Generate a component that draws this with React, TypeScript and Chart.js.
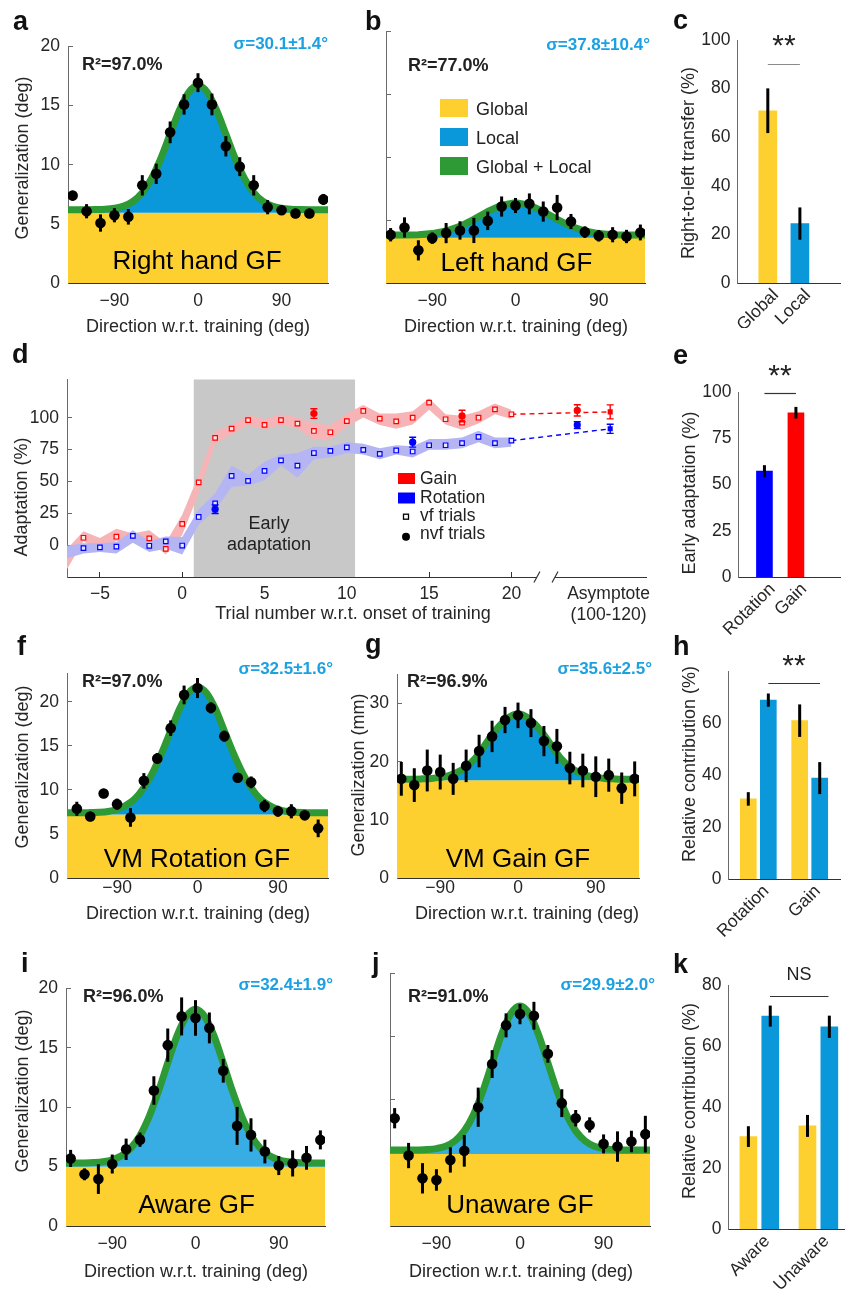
import React, { useEffect, useRef } from 'react';
import { Chart, registerables } from 'chart.js';

Chart.register(...registerables);

const FONT = '"Liberation Sans", Arial, Helvetica, sans-serif';
Chart.defaults.font.family = FONT;
Chart.defaults.font.size = 17.5;
Chart.defaults.color = '#262626';

/* ======================= DATA ======================= */
// Generalization functions (panels a, b, f, g, i, j)
const DIRECTIONS = [-135, -120, -105, -90, -75, -60, -45, -30, -15, 0, 15, 30, 45, 60, 75, 90, 105, 120, 135];
const FIT_DIRECTIONS = [-150, -140, -130, -120, -110, -100, -90, -80, -70, -60, -50, -40, -30, -20, -10, 0, 10, 20, 30, 40, 50, 60, 70, 80, 90, 100, 110, 120, 130, 140, 150];
const COARSE_FIT_DIRECTIONS = [-150, -135, -120, -105, -90, -75, -60, -45, -30, -15, 0, 15, 30, 45, 60, 75, 90, 105, 120, 135, 150];
const GF_X_TICKS = [-90, 0, 90];

// a: Right hand GF
const RIGHT_HAND_MEAN = [7.39, 6.07, 5.07, 5.73, 5.6, 8.26, 9.23, 12.74, 15.1, 16.94, 15.1, 11.56, 9.84, 8.26, 6.41, 6.15, 5.88, 5.88, 7.07];
const RIGHT_HAND_SEM = [0.4, 0.6, 0.73, 0.6, 0.66, 0.86, 0.86, 0.92, 0.86, 0.8, 0.92, 0.86, 0.8, 0.86, 0.6, 0.4, 0.4, 0.4, 0.46];
const RIGHT_HAND_FIT = [6.2, 6.2, 6.2, 6.2, 6.21, 6.24, 6.32, 6.5, 6.9, 7.64, 8.85, 10.54, 12.59, 14.62, 16.13, 16.7, 16.13, 14.62, 12.59, 10.54, 8.85, 7.64, 6.9, 6.5, 6.32, 6.24, 6.21, 6.2, 6.2, 6.2, 6.2];
const RIGHT_HAND_GLOBAL = 5.95;

// b: Left hand GF
const LEFT_HAND_MEAN = [3.83, 4.41, 2.59, 3.56, 3.96, 4.17, 4.17, 4.93, 6.07, 6.15, 6.28, 5.67, 5.99, 4.88, 4.04, 3.75, 3.83, 3.69, 4.01];
const LEFT_HAND_SEM = [0.53, 0.8, 0.8, 0.45, 0.8, 0.73, 1.0, 0.73, 0.8, 0.6, 0.83, 0.8, 1.0, 0.6, 0.46, 0.46, 0.6, 0.53, 0.63];
const LEFT_HAND_FIT = [3.8, 3.8, 3.8, 3.83, 3.92, 4.13, 4.5, 5.05, 5.68, 6.18, 6.38, 6.18, 5.68, 5.05, 4.5, 4.13, 3.92, 3.83, 3.8, 3.8, 3.8];
const LEFT_HAND_GLOBAL = 3.6;

// f: VM Rotation GF
const VM_ROT_MEAN = [7.85, 6.97, 9.58, 8.38, 6.87, 11.02, 13.56, 17.0, 20.77, 21.55, 19.3, 16.09, 11.37, 10.85, 8.17, 7.57, 7.57, 7.11, 5.63];
const VM_ROT_SEM = [0.8, 0.53, 0.53, 0.62, 1.06, 0.88, 0.62, 0.88, 1.06, 1.14, 0.62, 0.62, 0.5, 0.67, 0.7, 0.62, 0.8, 0.4, 1.0];
const VM_ROT_FIT = [7.4, 7.4, 7.4, 7.42, 7.45, 7.55, 7.8, 8.25, 9.0, 10.25, 12.0, 14.2, 16.7, 19.2, 21.0, 21.65, 21.0, 19.2, 16.7, 14.2, 12.0, 10.25, 9.0, 8.25, 7.8, 7.55, 7.45, 7.42, 7.4, 7.4, 7.4];
const VM_ROT_GLOBAL = 7.2;

// g: VM Gain GF
const VM_GAIN_MEAN = [17.05, 15.98, 18.49, 18.22, 17.05, 19.29, 21.84, 24.35, 27.17, 27.97, 26.64, 23.55, 22.64, 18.91, 18.49, 17.42, 17.69, 15.45, 17.05];
const VM_GAIN_SEM = [2.9, 2.9, 3.6, 3.0, 2.75, 2.8, 2.8, 2.7, 2.26, 2.2, 2.4, 2.6, 3.0, 2.8, 2.9, 3.5, 2.85, 2.7, 3.0];
const VM_GAIN_FIT = [17.0, 17.0, 17.0, 17.0, 17.05, 17.12, 17.3, 17.6, 18.2, 19.1, 20.5, 22.5, 24.6, 26.4, 27.7, 28.2, 27.7, 26.4, 24.6, 22.5, 20.5, 19.1, 18.2, 17.6, 17.3, 17.12, 17.05, 17.0, 17.0, 17.0, 17.0];
const VM_GAIN_GLOBAL = 16.8;

// i: Aware GF
const AWARE_MEAN = [5.69, 4.35, 3.95, 5.22, 6.46, 7.27, 11.41, 15.23, 17.65, 17.52, 16.68, 13.07, 8.43, 7.67, 6.27, 5.09, 5.27, 5.74, 7.25];
const AWARE_SEM = [0.72, 0.5, 1.25, 0.8, 0.9, 0.6, 1.2, 1.4, 1.6, 1.5, 1.3, 1.0, 1.6, 1.4, 1.0, 0.8, 1.1, 1.0, 0.8];
const AWARE_FIT = [5.3, 5.3, 5.3, 5.31, 5.34, 5.41, 5.57, 5.91, 6.56, 7.63, 9.24, 11.35, 13.73, 16.01, 17.64, 18.25, 17.64, 16.01, 13.73, 11.35, 9.24, 7.63, 6.56, 5.91, 5.57, 5.41, 5.34, 5.31, 5.3, 5.3, 5.3];
const AWARE_GLOBAL = 5.0;

// j: Unaware GF
const UNAWARE_MEAN = [8.52, 5.57, 3.77, 3.64, 5.22, 5.94, 9.39, 12.8, 15.86, 16.75, 16.62, 13.61, 9.71, 8.52, 7.99, 6.49, 6.28, 6.68, 7.26];
const UNAWARE_SEM = [0.8, 1.0, 1.2, 0.85, 1.0, 1.25, 1.55, 1.1, 0.95, 0.8, 1.1, 0.7, 1.1, 0.65, 0.6, 0.75, 1.2, 0.85, 1.45];
const UNAWARE_FIT = [6.0, 6.0, 6.0, 6.0, 6.01, 6.04, 6.12, 6.31, 6.73, 7.52, 8.82, 10.66, 12.89, 15.12, 16.78, 17.4, 16.78, 15.12, 12.89, 10.66, 8.82, 7.52, 6.73, 6.31, 6.12, 6.04, 6.01, 6.0, 6.0, 6.0, 6.0];
const UNAWARE_GLOBAL = 5.7;

// c: Right-to-left transfer
const C_LABELS = ['Global', 'Local'];
const C_TRANSFER = [70.9, 24.45];
const C_TRANSFER_SEM = [9.2, 6.65];
const C_Y_TICKS = [0, 20, 40, 60, 80, 100];

// d: Adaptation time course
const TRIALS = [-7, -6, -5, -4, -3, -2, -1, 0, 1, 2, 3, 4, 5, 6, 7, 8, 9, 10, 11, 12, 13, 14, 15, 16, 17, 18, 19, 20];
const GAIN_VF = [null, 5.8, null, 6.6, null, 5.3, -2.9, 16.7, 49.3, 84.2, 91.5, 98.1, 94.4, 98.1, 95.4, 89.6, 88.6, 97.3, 105.3, 99.3, 97.1, 100, 111.9, 98.8, 96.1, 100, 106.6, 102.7];
const ROT_VF = [null, -2.4, -1.7, -1.2, 7.3, -0.5, 2.9, -0.3, 22.1, 32.8, 54.4, 50.5, 58.3, 66.5, 62.4, 72.3, 74, 76.7, 74.8, 71.6, 74.3, 73.5, 78.4, 78.4, 80.1, 85, 80.1, 82];
const GAIN_BAND_HI = [-3, 11, 5.6, 12.9, 9.2, 11.7, 1.9, 23.8, 55.3, 89.3, 94.2, 101.9, 99, 102.7, 100.2, 95.4, 94.2, 103.4, 110, 103.4, 103.4, 105.1, 115.3, 102.7, 101.5, 105, 111.2, 106.3];
const GAIN_BAND_LO = [-19, 3.2, -5.3, 3.2, 1.9, 3.2, -7.3, 8, 40.8, 79.6, 86.9, 94.2, 90.5, 94.2, 91.7, 82.5, 82.5, 93, 100.2, 94.2, 91.3, 94.7, 106.3, 94.7, 90.5, 95.4, 102.7, 99];
const ROT_BAND_HI = [-0.5, 1.5, 1.5, 2.4, 11.7, 3.2, 6.8, 6.3, 28, 40.8, 62.6, 55.3, 65.5, 71.1, 72.3, 77.2, 77.2, 80.8, 79.6, 76, 78.4, 77.7, 83.3, 83.3, 84.5, 89.8, 84.5, 84.5];
const ROT_BAND_LO = [-10.2, -6.6, -5.3, -6.6, 1.9, -5.3, -2.9, -7.3, 16, 27.4, 45.6, 46.8, 51, 62.6, 52.9, 67.5, 68.7, 72.3, 71.1, 67.5, 71.1, 68.7, 74.8, 74.8, 76, 80.8, 76, 77.2];
const GAIN_NVF_TRIALS = [8, 17, 24];
const GAIN_NVF = [103.3, 101.4, 105.8];
const GAIN_NVF_SEM = [3.8, 4.5, 4.4];
const ROT_NVF_TRIALS = [2, 14, 24];
const ROT_NVF = [28.2, 80.8, 94.2];
const ROT_NVF_SEM = [3.4, 3.9, 2.7];
const ASYMPTOTE_VF_TRIAL = [26];
const GAIN_ASYMPTOTE_VF = [104.6];
const GAIN_ASYMPTOTE_VF_SEM = [5.5];
const ROT_ASYMPTOTE_VF = [91.3];
const ROT_ASYMPTOTE_VF_SEM = [3.6];
const EARLY_WINDOW = [0.7, 10.5];
const D_X_TICKS = [-5, 0, 5, 10, 15, 20];
const D_ASYMPTOTE_TICK = 25.9;
const D_ASYMPTOTE_LABEL = ['Asymptote', '(100-120)'];
const D_Y_TICKS = [0, 25, 50, 75, 100];
const D_AXIS_BREAK = [21.55, 22.65];

// e: Early adaptation
const E_LABELS = ['Rotation', 'Gain'];
const E_EARLY = [57.2, 88.8];
const E_EARLY_SEM = [3.25, 3.15];
const E_Y_TICKS = [0, 25, 50, 75, 100];

// h: Relative contribution (Rotation vs Gain)
const H_LABELS = ['Rotation', 'Gain'];
const H_GLOBAL = [30.8, 60.9];
const H_GLOBAL_SEM = [2.6, 6.25];
const H_LOCAL = [68.8, 38.8];
const H_LOCAL_SEM = [2.55, 6.15];
const H_Y_TICKS = [0, 20, 40, 60];

// k: Relative contribution (Aware vs Unaware)
const K_LABELS = ['Aware', 'Unaware'];
const K_GLOBAL = [30.3, 33.8];
const K_GLOBAL_SEM = [3.4, 3.6];
const K_LOCAL = [69.8, 66.3];
const K_LOCAL_SEM = [3.45, 3.65];
const K_Y_TICKS = [0, 20, 40, 60, 80];

/* ======================= STYLE ======================= */
const YELLOW = '#FDD02F';
const BLUE = '#0A98DA';
const BLUE_LIGHT = '#38ADE3';
const GREEN = '#2E9A35';
const SIGMA = '#1BA1E2';
const RED = '#FF0000';
const DBLUE = '#0000FF';
const PINK = '#F6B4B6';
const LAVENDER = '#B5B5F4';
const GRAY = '#C8C8C8';
const AXIS_Y = '#6a6a6a';
const AXIS_X = '#333333';

type Box = { l: number; t: number; r: number; b: number };
type Pad = { left: number; top: number; right: number; bottom: number };

const fmt = (v: number) => (v < 0 ? '\u2212' + Math.abs(v) : String(v));
const pts = (xs: number[], ys: (number | null)[]) => xs.map((x, i) => ({ x, y: ys[i] }));

/* ======================= PLUGINS ======================= */
const errorBars = {
  id: 'errorBars',
  afterDatasetsDraw(chart: any) {
    const ctx = chart.ctx;
    chart.data.datasets.forEach((ds: any, i: number) => {
      if (!ds.errors) return;
      const meta = chart.getDatasetMeta(i);
      const ys = chart.scales[meta.yAxisID];
      ctx.save();
      ctx.strokeStyle = ds.errorColor || '#000';
      ctx.lineWidth = ds.errorWidth || 2;
      meta.data.forEach((el: any, j: number) => {
        const e = ds.errors[j];
        const raw = ds.data[j];
        const v = raw && typeof raw === 'object' ? raw.y : raw;
        if (e == null || v == null) return;
        const x = el.x;
        const y1 = ys.getPixelForValue(v - e);
        const y2 = ys.getPixelForValue(v + e);
        ctx.beginPath();
        ctx.moveTo(x, y1);
        ctx.lineTo(x, y2);
        if (ds.errorCap) {
          const c = ds.errorCap;
          ctx.moveTo(x - c, y1);
          ctx.lineTo(x + c, y1);
          ctx.moveTo(x - c, y2);
          ctx.lineTo(x + c, y2);
        }
        ctx.stroke();
      });
      ctx.restore();
    });
  },
};

function sigLine(x1: number, x2: number, y: number, color: string) {
  return {
    id: 'sigLine',
    afterDatasetsDraw(chart: any) {
      const { ctx } = chart;
      const xs = chart.scales.x;
      const ys = chart.scales.y;
      const py = Math.round(ys.getPixelForValue(y)) + 0.5;
      ctx.save();
      ctx.strokeStyle = color;
      ctx.lineWidth = 1.2;
      ctx.beginPath();
      ctx.moveTo(xs.getPixelForValue(x1), py);
      ctx.lineTo(xs.getPixelForValue(x2), py);
      ctx.stroke();
      ctx.restore();
    },
  };
}

const earlyWindow = {
  id: 'earlyWindow',
  beforeDatasetsDraw(chart: any) {
    const { ctx, chartArea } = chart;
    const xs = chart.scales.x;
    const x1 = xs.getPixelForValue(EARLY_WINDOW[0]);
    const x2 = xs.getPixelForValue(EARLY_WINDOW[1]);
    ctx.save();
    ctx.fillStyle = GRAY;
    ctx.fillRect(x1, chartArea.top, x2 - x1, chartArea.bottom - chartArea.top);
    ctx.restore();
  },
};

const axisBreak = {
  id: 'axisBreak',
  afterDraw(chart: any) {
    const { ctx, chartArea } = chart;
    const xs = chart.scales.x;
    const a = xs.getPixelForValue(D_AXIS_BREAK[0]);
    const b = xs.getPixelForValue(D_AXIS_BREAK[1]);
    const y = chartArea.bottom;
    ctx.save();
    ctx.fillStyle = '#fff';
    ctx.fillRect(a, y - 2, b - a, 4);
    ctx.strokeStyle = AXIS_X;
    ctx.lineWidth = 1.2;
    ctx.beginPath();
    [a, b].forEach((x) => {
      ctx.moveTo(x - 3, y + 5.5);
      ctx.lineTo(x + 3, y - 5.5);
    });
    ctx.stroke();
    ctx.restore();
  },
};

/* ======================= AXES ======================= */
function yAxis(pad: Pad, min: number, max: number, tickVals: number[], o: any = {}) {
  const inward = o.inward !== false;
  return {
    type: 'linear',
    min,
    max,
    afterFit: (s: any) => {
      s.width = pad.left;
    },
    afterBuildTicks: (s: any) => {
      s.ticks = tickVals.map((v) => ({ value: v }));
    },
    border: { display: true, color: AXIS_Y, width: 1 },
    grid: inward
      ? { display: true, drawOnChartArea: false, drawTicks: true, tickLength: -5, color: AXIS_Y }
      : { display: false, drawTicks: false },
    ticks: { display: o.labels !== false, padding: inward ? 13 : 6.5, callback: (v: number) => fmt(v) },
  };
}

function xAxis(pad: Pad, min: number, max: number, tickVals: number[], o: any = {}) {
  const inward = o.inward !== false;
  return {
    type: 'linear',
    min,
    max,
    offset: false,
    afterFit: (s: any) => {
      s.height = pad.bottom;
    },
    afterBuildTicks: (s: any) => {
      s.ticks = tickVals.map((v) => ({ value: v }));
    },
    border: { display: true, color: AXIS_X, width: 1 },
    grid: inward
      ? { display: true, drawOnChartArea: false, drawTicks: true, tickLength: -5, color: AXIS_X, tickColor: o.tickColor || AXIS_X }
      : { display: false, drawTicks: false },
    ticks: {
      padding: o.padding !== undefined ? o.padding : 12.5,
      autoSkip: false,
      maxRotation: o.rotation || 0,
      minRotation: o.rotation || 0,
      labelOffset: o.labelOffset || 0,
      callback: o.callback || ((v: number) => fmt(v)),
    },
  };
}

function baseOptions(pad: Pad, scales: any) {
  return {
    animation: false,
    responsive: false,
    maintainAspectRatio: false,
    events: [],
    layout: { padding: { left: 0, top: pad.top, right: pad.right, bottom: 0 }, autoPadding: false },
    plugins: { legend: { display: false }, tooltip: { enabled: false } },
    scales,
  };
}

/* ======================= CONFIGS ======================= */
type GF = {
  pad: Pad;
  xMin: number;
  xMax: number;
  yMax: number;
  yTicks: number[];
  yLabels: boolean;
  xPad: number;
  mean: number[];
  sem: number[];
  fitX: number[];
  fit: number[];
  global: number;
  blue: string;
  smooth: boolean;
};

function gfConfig(p: GF) {
  return {
    type: 'line',
    data: {
      datasets: [
        {
          data: [
            { x: p.fitX[0], y: p.global },
            { x: p.fitX[p.fitX.length - 1], y: p.global },
          ],
          borderColor: 'rgba(0,0,0,0)',
          borderWidth: 0,
          backgroundColor: YELLOW,
          fill: 'origin',
          pointRadius: 0,
          order: 3,
          clip: 0,
        },
        {
          data: pts(p.fitX, p.fit),
          borderColor: GREEN,
          borderWidth: 7,
          backgroundColor: p.blue,
          fill: 0,
          pointRadius: 0,
          cubicInterpolationMode: p.smooth ? 'monotone' : 'default',
          tension: 0,
          borderJoinStyle: 'round',
          order: 2,
          clip: 0,
        },
        {
          data: pts(DIRECTIONS, p.mean),
          showLine: false,
          fill: false,
          pointRadius: 5.3,
          pointBackgroundColor: '#000',
          pointBorderColor: '#000',
          pointBorderWidth: 0,
          errors: p.sem,
          errorWidth: 3,
          order: 1,
        },
      ],
    },
    options: baseOptions(p.pad, {
      x: xAxis(p.pad, p.xMin, p.xMax, GF_X_TICKS, { padding: p.xPad }),
      y: yAxis(p.pad, 0, p.yMax, p.yTicks, { labels: p.yLabels }),
    }),
    plugins: [errorBars],
  };
}

function barConfig(pad: Pad, o: any) {
  return {
    type: 'bar',
    data: { datasets: o.datasets },
    options: baseOptions(pad, {
      x: xAxis(pad, o.xMin, o.xMax, o.labels.map((_: string, i: number) => i + 1), {
        inward: false,
        rotation: 45,
        padding: 2,
        labelOffset: o.labelOffset || 0,
        callback: (v: number) => o.labels[Math.round(v) - 1],
      }),
      y: yAxis(pad, 0, o.yMax, o.yTicks, { inward: false }),
    }),
    plugins: [errorBars, sigLine(o.sig[0], o.sig[1], o.sig[2], o.sigColor)],
  };
}

function barSet(xs: number[], ys: number[], sem: number[], color: string | string[], thickness: number) {
  return {
    data: pts(xs, ys),
    backgroundColor: color,
    borderWidth: 0,
    barThickness: thickness,
    grouped: false,
    errors: sem,
    errorWidth: 3,
  };
}

function adaptationConfig(pad: Pad) {
  const gainLastVf = GAIN_VF[GAIN_VF.length - 1];
  const rotLastVf = ROT_VF[ROT_VF.length - 1];
  const lastTrial = TRIALS[TRIALS.length - 1];
  const band = (ys: number[], fill: any, color: string, order: number) => ({
    data: pts(TRIALS, ys),
    borderColor: 'rgba(0,0,0,0)',
    borderWidth: 0,
    backgroundColor: color,
    pointRadius: 0,
    tension: 0,
    fill,
    order,
  });
  const vf = (ys: (number | null)[], color: string, fillColor: string) => ({
    data: pts(TRIALS, ys),
    showLine: false,
    fill: false,
    pointStyle: 'rect',
    pointRadius: 3.2,
    pointBorderWidth: 1.2,
    pointBorderColor: color,
    pointBackgroundColor: fillColor,
    order: 5,
  });
  const nvf = (xs: number[], ys: number[], sem: number[], color: string, style: string) => ({
    data: pts(xs, ys),
    showLine: false,
    fill: false,
    pointStyle: style,
    pointRadius: 3.6,
    pointBorderWidth: 0,
    pointBackgroundColor: color,
    errors: sem,
    errorColor: color,
    errorWidth: 1.4,
    errorCap: 3.5,
    order: 4,
  });
  const dashed = (y0: number | null, y1: number, color: string) => ({
    data: [
      { x: lastTrial, y: y0 },
      { x: ASYMPTOTE_VF_TRIAL[0], y: y1 },
    ],
    borderColor: color,
    borderWidth: 1.4,
    borderDash: [5, 4],
    pointRadius: 0,
    fill: false,
    order: 6,
  });
  return {
    type: 'line',
    data: {
      datasets: [
        band(GAIN_BAND_HI, false, PINK, 20),
        band(GAIN_BAND_LO, 0, PINK, 19),
        band(ROT_BAND_HI, false, LAVENDER, 18),
        band(ROT_BAND_LO, 2, LAVENDER, 17),
        dashed(gainLastVf, GAIN_ASYMPTOTE_VF[0], RED),
        dashed(rotLastVf, ROT_ASYMPTOTE_VF[0], DBLUE),
        vf(GAIN_VF, RED, '#FFE6E6'),
        vf(ROT_VF, DBLUE, '#E6E6FF'),
        nvf(GAIN_NVF_TRIALS, GAIN_NVF, GAIN_NVF_SEM, RED, 'circle'),
        nvf(ROT_NVF_TRIALS, ROT_NVF, ROT_NVF_SEM, DBLUE, 'circle'),
        nvf(ASYMPTOTE_VF_TRIAL, GAIN_ASYMPTOTE_VF, GAIN_ASYMPTOTE_VF_SEM, RED, 'rect'),
        nvf(ASYMPTOTE_VF_TRIAL, ROT_ASYMPTOTE_VF, ROT_ASYMPTOTE_VF_SEM, DBLUE, 'rect'),
      ],
    },
    options: baseOptions(pad, {
      x: xAxis(pad, -7, 28.2, [...D_X_TICKS, D_ASYMPTOTE_TICK], {
        padding: 11.8,
        tickColor: (c: any) => (c.tick && c.tick.value === D_ASYMPTOTE_TICK ? 'rgba(0,0,0,0)' : AXIS_X),
        callback: (v: number) => (v === D_ASYMPTOTE_TICK ? D_ASYMPTOTE_LABEL : fmt(v)),
      }),
      y: yAxis(pad, -25, 130, D_Y_TICKS, {}),
    }),
    plugins: [earlyWindow, errorBars, axisBreak],
  };
}

/* ======================= LAYOUT ======================= */
const BOX = {
  a: { l: 68, t: 31, r: 328, b: 283 },
  b: { l: 386, t: 31, r: 645, b: 283 },
  c: { l: 737, t: 31, r: 840, b: 283 },
  d: { l: 67, t: 364, r: 657, b: 577 },
  e: { l: 738, t: 383, r: 840, b: 577 },
  f: { l: 67, t: 658, r: 328, b: 878 },
  g: { l: 397, t: 659, r: 639, b: 878 },
  h: { l: 728, t: 662, r: 840, b: 879 },
  i: { l: 66, t: 973, r: 325, b: 1226 },
  j: { l: 390, t: 973, r: 650, b: 1226 },
  k: { l: 728, t: 976, r: 845, b: 1229 },
};
const PAD: Record<string, Pad> = {
  a: { left: 45, top: 8, right: 6, bottom: 32 },
  b: { left: 10, top: 8, right: 8, bottom: 32 },
  c: { left: 40, top: 8, right: 5, bottom: 45 },
  d: { left: 48, top: 8, right: 5, bottom: 48 },
  e: { left: 40, top: 8, right: 5, bottom: 62 },
  f: { left: 45, top: 8, right: 6, bottom: 26 },
  g: { left: 45, top: 8, right: 6, bottom: 26 },
  h: { left: 40, top: 8, right: 5, bottom: 75 },
  i: { left: 45, top: 8, right: 6, bottom: 32 },
  j: { left: 10, top: 8, right: 8, bottom: 32 },
  k: { left: 40, top: 8, right: 0, bottom: 66 },
};

function Panel({ box, pad, make }: { box: Box; pad: Pad; make: () => any }) {
  const ref = useRef<HTMLCanvasElement>(null);
  useEffect(() => {
    if (!ref.current) return;
    const chart = new Chart(ref.current, make());
    return () => chart.destroy();
  }, []);
  const width = box.r - box.l + pad.left + pad.right;
  const height = box.b - box.t + pad.top + pad.bottom;
  return (
    <canvas
      ref={ref}
      width={width}
      height={height}
      style={{ position: 'absolute', left: box.l - pad.left, top: box.t - pad.top, width, height }}
    />
  );
}

const LETTERS: [string, number, number][] = [
  ['a', 13, 30], ['b', 365, 30], ['c', 673, 28.5], ['d', 12, 363], ['e', 673, 364], ['f', 17, 655],
  ['g', 365, 653], ['h', 673, 655], ['i', 21, 972], ['j', 372, 972], ['k', 673, 973],
];
const Y_TITLES: [string, number, number][] = [
  ['Generalization (deg)', 22, 158], ['Right-to-left transfer (%)', 688, 163], ['Adaptation (%)', 21, 497],
  ['Early adaptation (%)', 689, 493], ['Generalization (deg)', 22, 767], ['Generalization (mm)', 358, 775],
  ['Relative contribution (%)', 689, 764], ['Generalization (deg)', 22, 1091], ['Relative contribution (%)', 689, 1101],
];
const X_TITLES: [string, number, number][] = [
  ['Direction w.r.t. training (deg)', 198, 332], ['Direction w.r.t. training (deg)', 516, 332],
  ['Trial number w.r.t. onset of training', 353, 619], ['Direction w.r.t. training (deg)', 198, 919],
  ['Direction w.r.t. training (deg)', 527, 919], ['Direction w.r.t. training (deg)', 196, 1277],
  ['Direction w.r.t. training (deg)', 521, 1277],
];
const R2_TEXT: [string, number, number][] = [
  ['R\u00b2=97.0%', 82, 70], ['R\u00b2=77.0%', 408, 71], ['R\u00b2=97.0%', 82, 687],
  ['R\u00b2=96.9%', 407, 687], ['R\u00b2=96.0%', 83, 1001.5], ['R\u00b2=91.0%', 408, 1001.5],
];
const SIGMA_TEXT: [string, number, number][] = [
  ['\u03c3=30.1\u00b11.4\u00b0', 328, 48.5], ['\u03c3=37.8\u00b110.4\u00b0', 650, 49.5], ['\u03c3=32.5\u00b11.6\u00b0', 333, 674],
  ['\u03c3=35.6\u00b12.5\u00b0', 652, 674], ['\u03c3=32.4\u00b11.9\u00b0', 333, 990], ['\u03c3=29.9\u00b12.0\u00b0', 655, 990],
];
const GF_NAMES: [string, number, number][] = [
  ['Right hand GF', 197, 268.5], ['Left hand GF', 516.5, 270.5], ['VM Rotation GF', 197, 866.5],
  ['VM Gain GF', 518, 866.5], ['Aware GF', 196.5, 1213], ['Unaware GF', 520, 1213],
];
const SIG_TEXT: [string, number, number, number][] = [
  ['**', 784, 55, 30], ['**', 780, 385, 30], ['**', 794, 675, 30], ['NS', 799, 980, 18],
];

export default function App() {
  const gfCommon = { xMin: -140, xMax: 140, yTicks: [0, 5, 10, 15, 20], fitX: FIT_DIRECTIONS, smooth: true };
  return (
    <div style={{ position: 'absolute', left: 0, top: 0, width: 845, height: 1295, background: '#fff', overflow: 'hidden' }}>
      <Panel box={BOX.a} pad={PAD.a} make={() => gfConfig({ ...gfCommon, pad: PAD.a, yMax: 20, yLabels: true, xPad: 12.5, mean: RIGHT_HAND_MEAN, sem: RIGHT_HAND_SEM, fit: RIGHT_HAND_FIT, global: RIGHT_HAND_GLOBAL, blue: BLUE })} />
      <Panel box={BOX.b} pad={PAD.b} make={() => gfConfig({ ...gfCommon, pad: PAD.b, yMax: 20, yLabels: false, xPad: 12.5, mean: LEFT_HAND_MEAN, sem: LEFT_HAND_SEM, fitX: COARSE_FIT_DIRECTIONS, fit: LEFT_HAND_FIT, global: LEFT_HAND_GLOBAL, blue: BLUE, smooth: false })} />
      <Panel box={BOX.c} pad={PAD.c} make={() => barConfig(PAD.c, { xMin: 0.04, xMax: 3.25, yMax: 100, yTicks: C_Y_TICKS, labels: C_LABELS, labelOffset: 8, sig: [1, 2, 90], sigColor: '#8a8a8a', datasets: [barSet([1, 2], C_TRANSFER, C_TRANSFER_SEM, [YELLOW, BLUE], 18)] })} />
      <Panel box={BOX.d} pad={PAD.d} make={() => adaptationConfig(PAD.d)} />
      <Panel box={BOX.e} pad={PAD.e} make={() => barConfig(PAD.e, { xMin: 0.16, xMax: 3.4, yMax: 100, yTicks: E_Y_TICKS, labels: E_LABELS, labelOffset: 8, sig: [1, 2, 99.2], sigColor: '#333', datasets: [barSet([1, 2], E_EARLY, E_EARLY_SEM, [DBLUE, RED], 16)] })} />
      <Panel box={BOX.f} pad={PAD.f} make={() => gfConfig({ ...gfCommon, pad: PAD.f, xMin: -146, xMax: 146, yMax: 23.2, yLabels: true, xPad: 4.5, mean: VM_ROT_MEAN, sem: VM_ROT_SEM, fit: VM_ROT_FIT, global: VM_ROT_GLOBAL, blue: BLUE })} />
      <Panel box={BOX.g} pad={PAD.g} make={() => gfConfig({ ...gfCommon, pad: PAD.g, yMax: 35, yTicks: [0, 10, 20, 30], yLabels: true, xPad: 4.5, mean: VM_GAIN_MEAN, sem: VM_GAIN_SEM, fit: VM_GAIN_FIT, global: VM_GAIN_GLOBAL, blue: BLUE })} />
      <Panel box={BOX.h} pad={PAD.h} make={() => barConfig(PAD.h, { xMin: 0.41, xMax: 2.59, yMax: 80, yTicks: H_Y_TICKS, labels: H_LABELS, labelOffset: 8, sig: [1.195, 2.2, 75.5], sigColor: '#333', datasets: [barSet([0.805, 1.805], H_GLOBAL, H_GLOBAL_SEM, YELLOW, 16), barSet([1.195, 2.195], H_LOCAL, H_LOCAL_SEM, BLUE, 16)] })} />
      <Panel box={BOX.i} pad={PAD.i} make={() => gfConfig({ ...gfCommon, pad: PAD.i, yMax: 20, yLabels: true, xPad: 12.5, mean: AWARE_MEAN, sem: AWARE_SEM, fit: AWARE_FIT, global: AWARE_GLOBAL, blue: BLUE_LIGHT })} />
      <Panel box={BOX.j} pad={PAD.j} make={() => gfConfig({ ...gfCommon, pad: PAD.j, yMax: 20, yLabels: false, xPad: 12.5, mean: UNAWARE_MEAN, sem: UNAWARE_SEM, fit: UNAWARE_FIT, global: UNAWARE_GLOBAL, blue: BLUE_LIGHT })} />
      <Panel box={BOX.k} pad={PAD.k} make={() => barConfig(PAD.k, { xMin: 0.47, xMax: 2.45, yMax: 80, yTicks: K_Y_TICKS, labels: K_LABELS, labelOffset: 8, sig: [1.18, 2.17, 76.5], sigColor: '#333', datasets: [barSet([0.815, 1.815], K_GLOBAL, K_GLOBAL_SEM, YELLOW, 17), barSet([1.185, 2.185], K_LOCAL, K_LOCAL_SEM, BLUE, 17)] })} />

      <svg width={845} height={1295} style={{ position: 'absolute', left: 0, top: 0, pointerEvents: 'none' }} fontFamily={FONT}>
        {LETTERS.map(([t, x, y]) => (
          <text key={'L' + t} x={x} y={y} fontSize={27} fontWeight="bold" fill="#111">{t}</text>
        ))}
        {Y_TITLES.map(([t, x, y], i) => (
          <text key={'Y' + i} x={x} y={y} fontSize={18} fill="#262626" textAnchor="middle" dominantBaseline="central" transform={`rotate(-90 ${x} ${y})`}>{t}</text>
        ))}
        {X_TITLES.map(([t, x, y], i) => (
          <text key={'X' + i} x={x} y={y} fontSize={18} fill="#262626" textAnchor="middle">{t}</text>
        ))}
        {R2_TEXT.map(([t, x, y], i) => (
          <text key={'R' + i} x={x} y={y} fontSize={18} fontWeight="bold" fill="#222">{t}</text>
        ))}
        {SIGMA_TEXT.map(([t, x, y], i) => (
          <text key={'S' + i} x={x} y={y} fontSize={17} fontWeight="bold" fill={SIGMA} textAnchor="end">{t}</text>
        ))}
        {GF_NAMES.map(([t, x, y], i) => (
          <text key={'G' + i} x={x} y={y} fontSize={26} fill="#000" textAnchor="middle">{t}</text>
        ))}
        {SIG_TEXT.map(([t, x, y, s], i) => (
          <text key={'Q' + i} x={x} y={y} fontSize={s} fill="#222" textAnchor="middle">{t}</text>
        ))}
        {/* legend b */}
        <rect x={440} y={99} width={28} height={18} fill={YELLOW} />
        <rect x={440} y={128} width={28} height={18} fill={BLUE} />
        <rect x={440} y={157} width={28} height={18} fill={GREEN} />
        <text x={476} y={115} fontSize={18} fill="#222">Global</text>
        <text x={476} y={144} fontSize={18} fill="#222">Local</text>
        <text x={476} y={173} fontSize={18} fill="#222">Global + Local</text>
        {/* panel d annotations */}
        <text x={269} y={529} fontSize={18} fill="#222" textAnchor="middle">Early</text>
        <text x={269} y={550} fontSize={18} fill="#222" textAnchor="middle">adaptation</text>
        <rect x={398} y={473} width={17} height={11} fill={RED} />
        <rect x={398} y={492.5} width={17} height={11} fill={DBLUE} />
        <rect x={403.5} y={514.2} width={5} height={5} fill="#fff" stroke="#000" strokeWidth={1.3} />
        <circle cx={406} cy={536.7} r={4} fill="#000" />
        <text x={420} y={484} fontSize={17.5} fill="#222">Gain</text>
        <text x={420} y={502.7} fontSize={17.5} fill="#222">Rotation</text>
        <text x={420} y={520.7} fontSize={17.5} fill="#222">vf trials</text>
        <text x={420} y={539.3} fontSize={17.5} fill="#222">nvf trials</text>
      </svg>
    </div>
  );
}
